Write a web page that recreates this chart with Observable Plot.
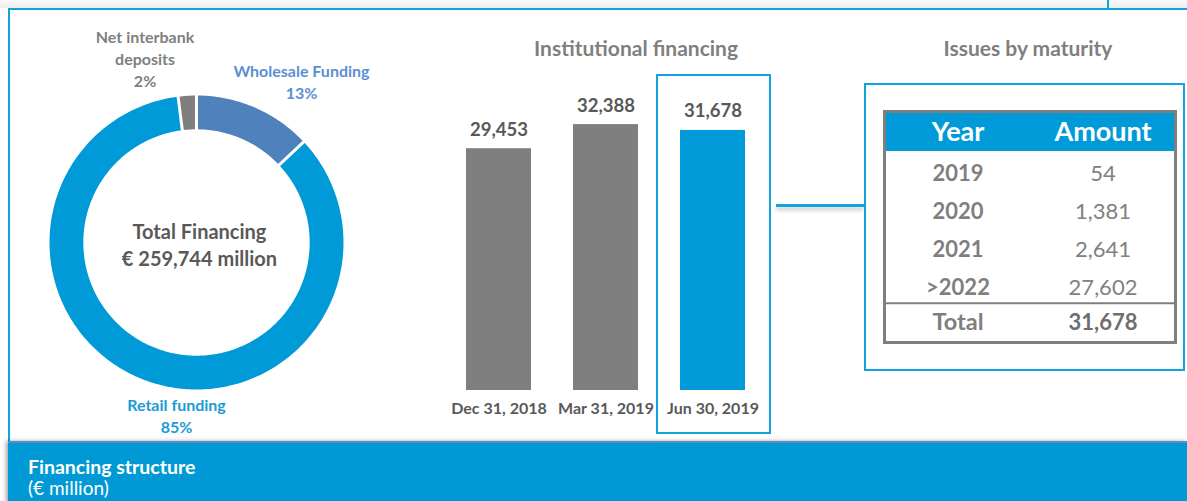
<!DOCTYPE html>
<html>
<head>
<meta charset="utf-8">
<script src="https://cdn.jsdelivr.net/npm/d3@7"></script>
<script src="https://cdn.jsdelivr.net/npm/@observablehq/plot@0.6"></script>
<style>
  html, body { margin: 0; padding: 0; background: #fff; }
  #page { position: relative; width: 1187px; height: 501px; overflow: hidden; background: #fff; font-family: Lato, "Open Sans", sans-serif; }
  .abs { position: absolute; }
  .title { position: absolute; font-weight: bold; font-size: 21px; color: #7f7f7f; text-align: center; line-height: 22px; white-space: nowrap; }
</style>
</head>
<body>
<div id="page">
  <div class="abs" style="left:0;top:0;width:1187px;height:8px;background:linear-gradient(#fafafa,#ececec);"></div>
  <div class="abs" style="left:1107px;top:0;width:2px;height:9px;background:#12a2dd;"></div>
  <div class="abs" style="left:8px;top:8px;width:1179px;height:2px;background:#12a2dd;"></div>
  <div class="abs" style="left:8px;top:8px;width:2px;height:434px;background:#12a2dd;"></div>
  <div id="donut" class="abs" style="left:0;top:0;"></div>
  <div id="bars" class="abs" style="left:400px;top:0;"></div>
  <div class="title" style="left:534px;top:37px;width:200px;">Institutional financing</div>
  <div class="title" style="left:928px;top:37px;width:200px;">Issues by maturity</div>
  <div class="abs" style="left:776px;top:204px;width:88px;height:3px;background:#12a2dd;box-shadow:0 3px 4px rgba(0,0,0,0.25);"></div>
  <div class="abs" style="left:864px;top:83px;width:317px;height:284px;border:2px solid #12a2dd;"></div>
  <div id="table" class="abs" style="left:860px;top:0;"></div>
  <div class="abs" style="left:8px;top:441px;width:1179px;height:60px;background:#0099d6;border-top:2px solid #5b8ec6;box-shadow:-2px 0 4px rgba(0,0,0,0.35);"></div>
  <div class="abs" style="left:28px;top:455px;color:#fff;font-size:19.5px;font-weight:bold;line-height:23px;">Financing structure</div>
  <div class="abs" style="left:28px;top:477px;color:#fff;font-size:19px;line-height:22px;">(€ million)</div>
</div>
<script>
// ---------- data ----------
const sliceNames = ["Wholesale Funding", "Retail funding", "Net interbank\ndeposits"];
const sliceShares = [13, 85, 2];
const totalFinancing = 259744;

const barDates = ["Dec 31, 2018", "Mar 31, 2019", "Jun 30, 2019"];
const barValues = [29453, 32388, 31678];

const maturityYears = ["2019", "2020", "2021", ">2022"];
const maturityAmounts = [54, 1381, 2641, 27602];

// ---------- styles / layout ----------
const BLUE = "#009ad8", STEEL = "#4f81bd", GRAY = "#7f7f7f", DARK = "#595959";
const sliceColors = [STEEL, BLUE, GRAY];
const sliceTextColors = ["#5b8fd4", "#1a9ad6", GRAY];
const labelAnchors = [[0.714, 1.099], [-0.136, -1.173], [-0.35, 1.255]]; // layout, unit circle coords
const innerR = 0.77, outerR = 1;
const fmt = d3.format(",");
const FONT = "Lato, 'Open Sans', sans-serif";

// ---------- donut ----------
const total = d3.sum(sliceShares);
const ring = [], seps = [];
let cum = 0;
sliceNames.forEach((name, i) => {
  const a0 = cum / total * 2 * Math.PI;
  cum += sliceShares[i];
  const a1 = cum / total * 2 * Math.PI;
  seps.push(a0);
  const n = Math.max(2, Math.ceil((a1 - a0) / (Math.PI / 180)));
  for (let k = 0; k <= n; k++) {
    const a = a0 + (a1 - a0) * k / n;
    ring.push({slice: name, color: sliceColors[i], x: outerR * Math.sin(a), y: outerR * Math.cos(a)});
  }
  for (let k = n; k >= 0; k--) {
    const a = a0 + (a1 - a0) * k / n;
    ring.push({slice: name, color: sliceColors[i], x: innerR * Math.sin(a), y: innerR * Math.cos(a)});
  }
});
const labels = sliceNames.map((name, i) => ({
  text: `${name}\n${sliceShares[i]}%`, color: sliceTextColors[i], x: labelAnchors[i][0], y: labelAnchors[i][1]
}));

const donut = Plot.plot({
  width: 420, height: 440,
  marginLeft: 49, marginRight: 77, marginTop: 95, marginBottom: 51,
  x: {domain: [-1, 1], axis: null},
  y: {domain: [-1, 1], axis: null},
  style: {fontFamily: FONT, background: "transparent"},
  marks: [
    Plot.line(ring, {x: "x", y: "y", z: "slice", fill: "color", stroke: "none", curve: "linear"}),
    Plot.link(seps, {x1: a => 0.74 * Math.sin(a), y1: a => 0.74 * Math.cos(a), x2: a => 1.03 * Math.sin(a), y2: a => 1.03 * Math.cos(a), stroke: "white", strokeWidth: 3}),
    Plot.text(labels, {x: "x", y: "y", text: "text", fill: "color", fontSize: 16, fontWeight: "bold", lineHeight: 1.35}),
    Plot.text([`Total Financing\n€ ${fmt(totalFinancing)} million`], {x: 0.02, y: -0.01, text: d => d, fill: DARK, fontSize: 20, fontWeight: "bold", lineHeight: 1.35})
  ]
});
document.getElementById("donut").append(donut);

// ---------- bars ----------
const barData = barDates.map((date, i) => ({date, value: barValues[i]}));
const highlight = barDates[barDates.length - 1];
const bars = Plot.plot({
  width: 400, height: 440,
  marginLeft: 22.5, marginRight: 12.5, marginTop: 61.6, marginBottom: 50,
  x: {domain: barDates, padding: 0.395, axis: null},
  y: {domain: [0, 40000], axis: null},
  style: {fontFamily: FONT, background: "transparent"},
  marks: [
    Plot.cell([highlight], {x: d => d, fill: "none", stroke: "#12a2dd", strokeWidth: 2, insetLeft: -23, insetRight: -25, insetTop: 13.4, insetBottom: -43}),
    Plot.barY(barData, {x: "date", y: "value", fill: d => d.date === highlight ? BLUE : GRAY}),
    Plot.text(barData, {x: "date", y: "value", text: d => fmt(d.value), dy: -19, fill: DARK, fontSize: 18.5, fontWeight: "bold"}),
    Plot.text(barDates, {x: d => d, frameAnchor: "bottom", dy: 23, text: d => d, fill: DARK, fontSize: 16, fontWeight: "bold"})
  ]
});
document.getElementById("bars").append(bars);

// ---------- maturity table ----------
const rows = ["header", ...maturityYears, "Total"];
const cols = ["Year", "Amount"];
const body = maturityYears.map((y, i) => ({row: y, amount: maturityAmounts[i]}));
const totalAmount = d3.sum(maturityAmounts);
const table = Plot.plot({
  width: 327, height: 440,
  marginLeft: 24, marginRight: 12, marginTop: 111, marginBottom: 98,
  x: {domain: cols, padding: 0, axis: null},
  y: {domain: rows, padding: 0, axis: null},
  style: {fontFamily: FONT, background: "transparent"},
  marks: [
    Plot.cell(cols, {x: d => d, y: () => "header", fill: BLUE, inset: 0}),
    Plot.text(cols, {x: d => d, y: () => "header", text: d => d, fill: "white", fontSize: 27, fontWeight: "bold"}),
    Plot.text(body, {x: () => "Year", y: "row", text: "row", dy: 3, fill: GRAY, fontSize: 22, fontWeight: "bold"}),
    Plot.text(body, {x: () => "Amount", y: "row", text: d => fmt(d.amount), dy: 3, fill: "#808080", fontSize: 22}),
    Plot.text(["Total"], {x: () => "Year", y: () => "Total", text: d => d, fill: GRAY, fontSize: 23.5, fontWeight: "bold"}),
    Plot.text([totalAmount], {x: () => "Amount", y: () => "Total", text: d => fmt(d), fill: "#6e6e6e", fontSize: 22, fontWeight: "bold"}),
    Plot.ruleY(["Total"], {dy: -19.25, stroke: GRAY, strokeWidth: 2}),
    Plot.frame({stroke: GRAY, strokeWidth: 3})
  ]
});
document.getElementById("table").append(table);
</script>
</body>
</html>
